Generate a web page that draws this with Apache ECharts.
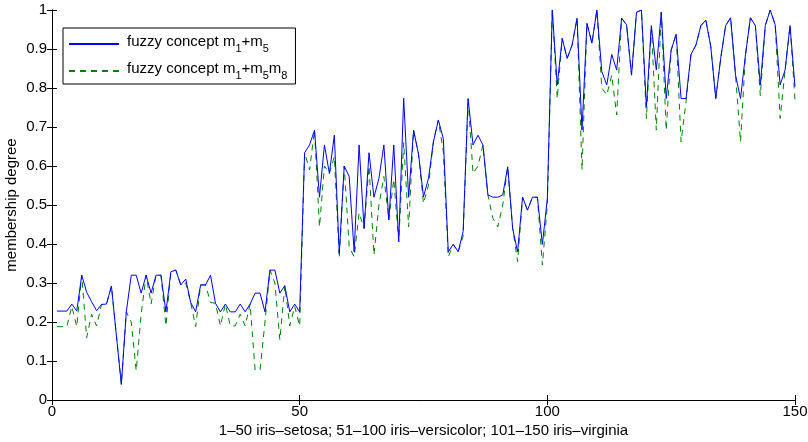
<!doctype html>
<html>
<head>
<meta charset="utf-8">
<title>fuzzy concepts on iris</title>
<script src="https://cdn.jsdelivr.net/npm/echarts@6/dist/echarts.min.js"></script>
<style>
  html, body { margin: 0; padding: 0; background: #fff; }
  #chart { width: 808px; height: 442px; }
</style>
</head>
<body>
<div id="chart"></div>
<script>
// membership degree for samples 1..150
var conceptA = [
  0.228, 0.228, 0.228, 0.246, 0.228, 0.32, 0.276, 0.252, 0.229, 0.245,
  0.246, 0.292, 0.165, 0.04, 0.226, 0.32, 0.32, 0.274, 0.32, 0.274,
  0.32, 0.32, 0.226, 0.329, 0.333, 0.295, 0.31, 0.25, 0.226, 0.295,
  0.295, 0.32, 0.248, 0.226, 0.246, 0.226, 0.226, 0.246, 0.226, 0.246,
  0.274, 0.274, 0.226, 0.333, 0.333, 0.274, 0.293, 0.226, 0.246, 0.226,
  0.634, 0.654, 0.692, 0.52, 0.654, 0.581, 0.679, 0.376, 0.6, 0.573,
  0.38, 0.654, 0.44, 0.634, 0.52, 0.568, 0.654, 0.462, 0.654, 0.406,
  0.774, 0.52, 0.692, 0.63, 0.521, 0.568, 0.662, 0.718, 0.67, 0.38,
  0.399, 0.38, 0.432, 0.773, 0.654, 0.679, 0.654, 0.526, 0.52, 0.52,
  0.526, 0.598, 0.44, 0.38, 0.52, 0.487, 0.52, 0.52, 0.399, 0.517,
  1.0, 0.808, 0.927, 0.876, 0.91, 0.979, 0.692, 0.966, 0.915, 1.0,
  0.842, 0.808, 0.886, 0.846, 0.979, 0.962, 0.833, 0.994, 1.0, 0.752,
  0.96, 0.846, 0.994, 0.773, 0.897, 0.938, 0.773, 0.773, 0.886, 0.91,
  0.96, 0.974, 0.906, 0.773, 0.876, 0.96, 0.98, 0.833, 0.773, 0.885,
  0.98, 0.96, 0.808, 0.96, 1.0, 0.962, 0.808, 0.846, 0.96, 0.803
];
var conceptB = [
  0.188, 0.188, 0.188, 0.24, 0.188, 0.32, 0.16, 0.22, 0.19, 0.245,
  0.246, 0.292, 0.165, 0.04, 0.226, 0.2, 0.075, 0.22, 0.32, 0.246,
  0.32, 0.32, 0.19, 0.329, 0.333, 0.295, 0.3, 0.25, 0.188, 0.295,
  0.295, 0.25, 0.248, 0.19, 0.246, 0.19, 0.19, 0.22, 0.19, 0.246,
  0.077, 0.077, 0.2, 0.333, 0.3, 0.154, 0.293, 0.19, 0.24, 0.19,
  0.634, 0.59, 0.692, 0.444, 0.6, 0.581, 0.624, 0.364, 0.6, 0.393,
  0.367, 0.48, 0.44, 0.6, 0.372, 0.5, 0.573, 0.462, 0.566, 0.406,
  0.66, 0.444, 0.692, 0.63, 0.504, 0.55, 0.662, 0.718, 0.637, 0.367,
  0.399, 0.38, 0.42, 0.773, 0.581, 0.6, 0.654, 0.526, 0.466, 0.444,
  0.5, 0.598, 0.44, 0.355, 0.52, 0.487, 0.52, 0.52, 0.346, 0.5,
  1.0, 0.773, 0.927, 0.876, 0.91, 0.979, 0.59, 0.966, 0.915, 1.0,
  0.8, 0.782, 0.833, 0.731, 0.979, 0.962, 0.833, 0.994, 1.0, 0.722,
  0.96, 0.692, 0.994, 0.692, 0.897, 0.938, 0.662, 0.765, 0.886, 0.91,
  0.96, 0.974, 0.906, 0.773, 0.876, 0.96, 0.98, 0.833, 0.662, 0.885,
  0.98, 0.96, 0.78, 0.96, 1.0, 0.962, 0.722, 0.846, 0.96, 0.77
];
var seriesNames = ['conceptA', 'conceptB'];
var xTitle = '1\u201350 iris\u2013setosa; 51\u2013100 iris\u2013versicolor; 101\u2013150 iris\u2013virginia';
var yTitle = 'membership degree';

function pairs(vals) {
  return vals.map(function (v, i) { return [i + 1, v]; });
}

var font = 'Liberation Sans';
var fs = 15;
var boxLine = { show: true, lineStyle: { color: '#000', width: 1 } };
var inTick = { show: true, inside: true, length: 5, lineStyle: { color: '#000' } };

var chart = echarts.init(document.getElementById('chart'), null, { renderer: 'canvas' });
chart.setOption({
  animation: false,
  backgroundColor: '#fff',
  textStyle: { fontFamily: font },
  grid: { left: 52, right: 13, top: 10, bottom: 42, containLabel: false, outerBoundsMode: 'none' },
  legend: {
    orient: 'vertical',
    left: 63, top: 28,
    backgroundColor: '#fff',
    borderColor: '#000', borderWidth: 1, borderRadius: 0,
    padding: [6, 8, 3, 5],
    itemWidth: 50, itemHeight: 14, itemGap: 7,
    itemStyle: { opacity: 0 },
    data: seriesNames,
    formatter: function (name) {
      if (name === 'conceptA') return '{f|fuzzy concept m}{s|1}{t|+m}{s|5}';
      return '{f|fuzzy concept m}{s|1}{t|+m}{s|5}{t|m}{s|8}';
    },
    textStyle: {
      fontFamily: font, color: '#000',
      rich: {
        f: { fontFamily: font, fontSize: fs, color: '#000', lineHeight: 20, verticalAlign: 'top', padding: [0, 0, 0, 3] },
        t: { fontFamily: font, fontSize: fs, color: '#000', lineHeight: 20, verticalAlign: 'top' },
        s: { fontFamily: font, fontSize: 11, color: '#000', lineHeight: 20, verticalAlign: 'bottom', padding: [8, 0, 0, 0] }
      }
    }
  },
  xAxis: [{
    type: 'value', min: 0, max: 150, interval: 50,
    name: xTitle, nameLocation: 'middle', nameGap: 23, nameMoveOverlap: false,
    nameTextStyle: { fontFamily: font, fontSize: fs, color: '#000' },
    axisLine: boxLine, axisTick: inTick,
    axisLabel: { fontFamily: font, fontSize: fs, color: '#000', margin: 4 },
    splitLine: { show: false }
  }, {
    type: 'value', min: 0, max: 150, interval: 50, position: 'top',
    axisLine: boxLine, axisTick: inTick, axisLabel: { show: false }, splitLine: { show: false }
  }],
  yAxis: [{
    type: 'value', min: 0, max: 1, interval: 0.1,
    name: yTitle, nameLocation: 'middle', nameGap: 33, nameMoveOverlap: false,
    nameTextStyle: { fontFamily: font, fontSize: fs, color: '#000' },
    axisLine: boxLine, axisTick: inTick,
    axisLabel: { fontFamily: font, fontSize: fs, color: '#000', margin: 5 },
    splitLine: { show: false }
  }, {
    type: 'value', min: 0, max: 1, interval: 0.1, position: 'right',
    axisLine: boxLine, axisTick: inTick, axisLabel: { show: false }, splitLine: { show: false }
  }],
  series: [{
    name: seriesNames[0], type: 'line', data: pairs(conceptA),
    symbol: 'none', z: 3,
    color: '#0000ff',
    lineStyle: { color: '#0000ff', width: 1 }
  }, {
    name: seriesNames[1], type: 'line', data: pairs(conceptB),
    symbol: 'none', z: 2,
    color: '#008000',
    lineStyle: { color: '#008000', width: 1, type: [6, 5] }
  }]
});
</script>
</body>
</html>
